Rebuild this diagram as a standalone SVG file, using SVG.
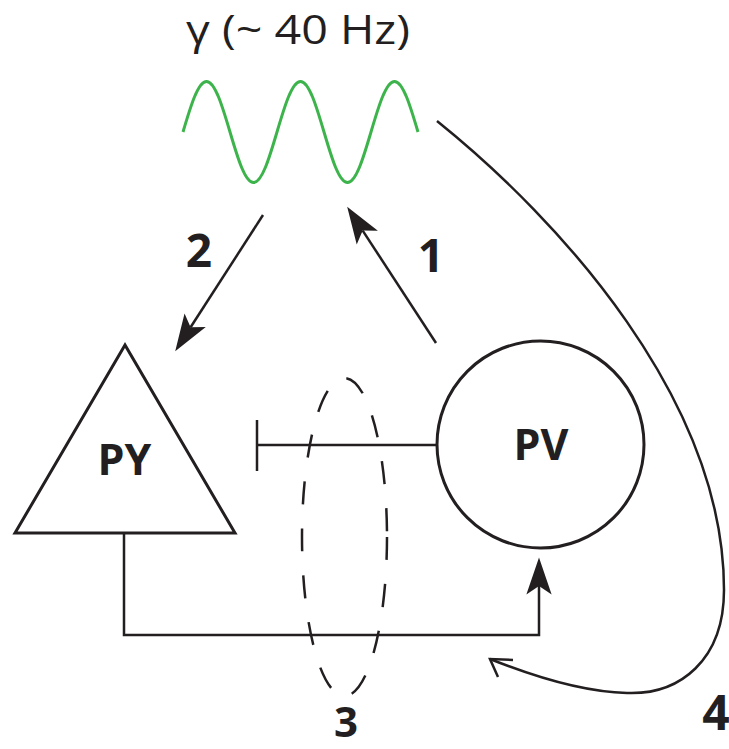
<svg xmlns="http://www.w3.org/2000/svg" width="729" height="749" viewBox="0 0 729 749">
<style>
.lbl{font-family:"Open Sans","Liberation Sans",sans-serif;font-weight:bold;fill:#231f20;text-anchor:middle}
.ln{fill:none;stroke:#231f20;stroke-width:2.5}
.shape{fill:#fff;stroke:#231f20;stroke-width:3}
</style>
<defs>
<marker id="ah" markerUnits="userSpaceOnUse" markerWidth="40" markerHeight="30" viewBox="-1 -14 38 28" refX="8" refY="0" orient="auto">
<path d="M0,-12 L35,0 L0,12 L8,0 z" fill="#231f20"/>
</marker>
</defs>
<rect width="729" height="749" fill="#fff"/>
<g id="gamma">
<text x="186" y="44" font-family="Open Sans, Liberation Sans, sans-serif" font-size="40" font-weight="500" fill="#231f20" textLength="224" lengthAdjust="spacingAndGlyphs"><tspan font-size="40">γ</tspan> (~ 40 Hz)</text>
<path d="M183,132 c7.66,-25.9 15,-50.5 23.5,-50.5 c8.5,0 15.84,24.6 23.5,50.5 c7.66,25.9 15,50.5 23.5,50.5 c8.5,0 15.84,-24.6 23.5,-50.5 c7.66,-25.9 15,-50.5 23.5,-50.5 c8.5,0 15.84,24.6 23.5,50.5 c7.66,25.9 15,50.5 23.5,50.5 c8.5,0 15.84,-24.6 23.5,-50.5 c7.66,-25.9 15,-50.5 23.5,-50.5 c8.5,0 15.84,24.6 23.5,50.5" fill="none" stroke="#3cb44b" stroke-width="3"/>
</g>
<g id="PY">
<polygon class="shape" points="125,345 15,533 235,533"/>
<text class="lbl" x="124.5" y="475" font-size="43">PY</text>
</g>
<g id="PV">
<circle class="shape" cx="540.5" cy="444.5" r="103.5"/>
<text class="lbl" x="541" y="460" font-size="43">PV</text>
</g>
<g id="connectors">
<line class="ln" x1="263" y1="215" x2="190.6" y2="327.3" marker-end="url(#ah)"/>
<line class="ln" x1="436" y1="343" x2="362.7" y2="230.6" marker-end="url(#ah)"/>
<line class="ln" x1="437" y1="445" x2="257" y2="445"/>
<line class="ln" x1="257" y1="420" x2="257" y2="471"/>
<polyline class="ln" points="124,533 124,635 539,635 539,586" marker-end="url(#ah)"/>
<path class="ln" d="M437,121 C560,220 724,400 724,590 C724,660 680,695 627,693 C580,692 530,675 490,659" stroke-width="2.3"/>
<polyline class="ln" points="513,660 490,659 498,677" stroke-width="2.3"/>
<ellipse cx="344.5" cy="537" rx="42.5" ry="159" fill="none" stroke="#231f20" stroke-width="2.5" stroke-dasharray="23 24"/>
</g>
<g id="labels">
<text class="lbl" x="199" y="267" font-size="46">2</text>
<text class="lbl" x="431" y="272" font-size="46">1</text>
<text class="lbl" x="346" y="737" font-size="42">3</text>
<text class="lbl" x="716" y="730" font-size="48">4</text>
</g>
</svg>
